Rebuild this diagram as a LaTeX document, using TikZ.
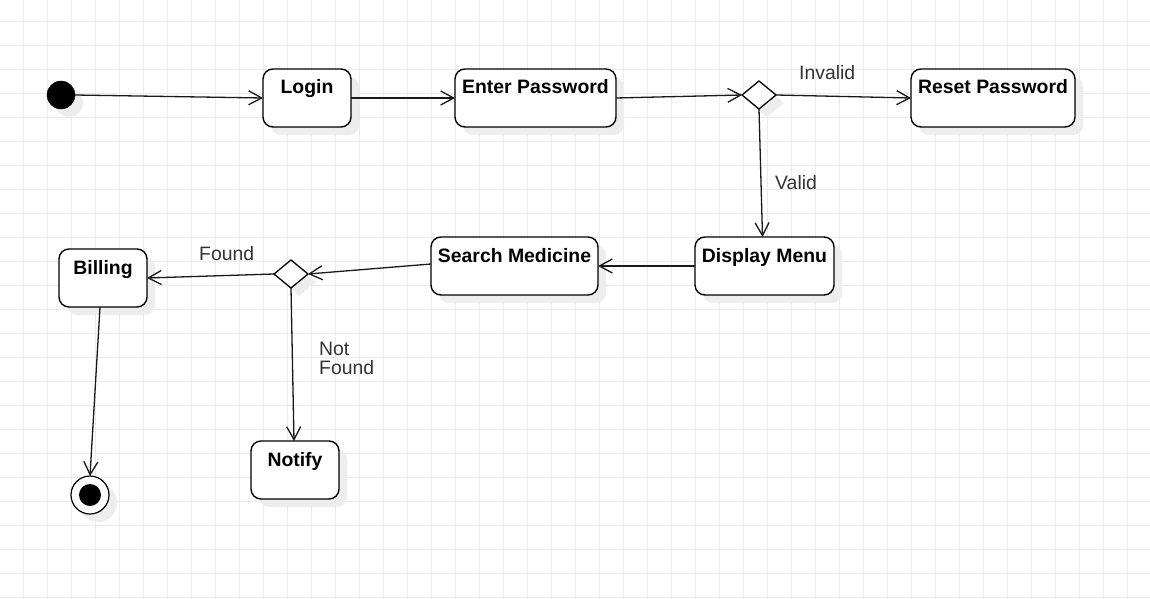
\documentclass[tikz,border=0pt]{standalone}
\usepackage{fontspec}
\setmainfont{Liberation Sans}
\usetikzlibrary{arrows.meta,shapes.geometric,shadows}
\begin{document}
\begin{tikzpicture}[x=1pt,y=-1pt,
  gridline/.style={draw=black!8,line width=1pt},
  shd/.style={general shadow={fill=black!7,shadow xshift=8pt,shadow yshift=-8pt}},
  statebox/.style={draw=black,line width=1.4pt,rounded corners=10pt,fill=white,shd,
    inner sep=0pt,outer sep=0pt,minimum height=58pt,text height=25pt,text depth=33pt,
    font=\fontsize{19.4}{19.4}\selectfont\bfseries},
  choice/.style={diamond,draw=black,line width=1.3pt,fill=white,shd,inner sep=0pt,outer sep=0pt,
    aspect=1.2,minimum width=34pt,minimum height=28pt},
  initial/.style={circle,fill=black,draw=black,minimum size=28pt,inner sep=0pt,outer sep=0pt,shd},
  final/.style={circle,fill=white,draw=black,line width=1.2pt,minimum size=38pt,inner sep=0pt,outer sep=0pt,shd},
  flow/.style={draw=black!90,line width=1.3pt,-{Straight Barb[length=13pt,width=14pt,line width=1.3pt]}},
  lbl/.style={text=black!80,inner sep=0pt,font=\fontsize{19.4}{19}\selectfont}
]
\useasboundingbox (0,0) rectangle (1150,599);
\fill[white] (0,0) rectangle (1150,599);
\foreach \k in {0,...,47} {\draw[gridline] (23.5+24*\k,0) -- (23.5+24*\k,599);}
\foreach \k in {0,...,24} {\draw[gridline] (0,21.5+24*\k) -- (1150,21.5+24*\k);}

\node[initial] (start) at (61,95) {};
\node[statebox,minimum width=88pt] (login) at (307,98) {Login};
\node[statebox,minimum width=161pt] (enter) at (535.5,98) {Enter Password};
\node[choice] (d1) at (759,95) {};
\node[statebox,minimum width=164pt] (reset) at (993,98) {Reset Password};
\node[statebox,minimum width=139pt] (display) at (764.5,266) {Display Menu};
\node[statebox,minimum width=167pt] (search) at (514.5,266) {Search Medicine};
\node[choice] (d2) at (291,274) {};
\node[statebox,minimum width=88pt] (billing) at (103,278) {Billing};
\node[statebox,minimum width=88pt] (notify) at (295,470) {Notify};
\node[final] (end) at (90,495) {};
\fill[black] (end.center) circle (11);

\draw[flow] (start.east) -- (login.west);
\draw[flow] (login.east) -- (enter.west);
\draw[flow] (enter.east) -- (d1.west);
\draw[flow] (d1.east) -- (reset.west);
\draw[flow] (d1.south) -- ([xshift=-2pt]display.north);
\draw[flow] (display.west) -- (search.east);
\draw[flow] ([yshift=2pt]search.west) -- (d2.east);
\draw[flow] (d2.west) -- (billing.east);
\draw[flow] (d2.south) -- ([xshift=-1pt]notify.north);
\draw[flow] ([xshift=-3pt]billing.south) -- (end.north);

\node[lbl,anchor=base west] (linvalid) at (799,80) {Invalid};
\node[lbl,anchor=base west] (lvalid) at (775,189) {Valid};
\node[lbl,anchor=base west] (lfound) at (199,260) {Found};
\node[lbl,anchor=north west,align=left] (lnotfound) at (319,342.4) {Not\\Found};
\end{tikzpicture}
\end{document}
